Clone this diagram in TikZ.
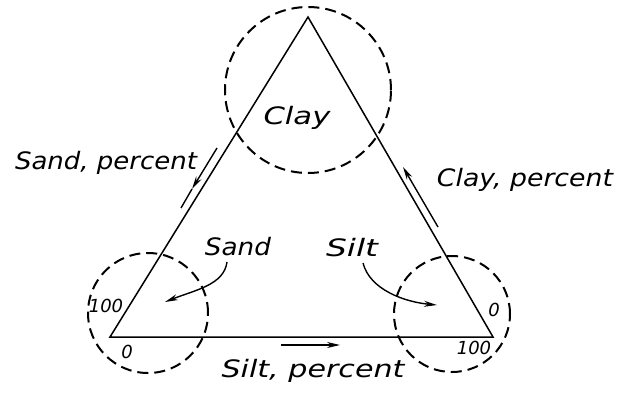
\documentclass[tikz,border=0pt]{standalone}
\usepackage{fontspec}
\usepackage{graphicx}
\setmainfont{DejaVu Sans}
\usetikzlibrary{arrows.meta}
\newcommand{\hw}[2]{\resizebox{#1}{\height}{#2}}
\tikzset{
  side/.style={line width=1.5pt, line join=miter},
  zone/.style={circle, draw, dash pattern=on 11pt off 6pt, line width=2pt, inner sep=0pt},
  lbl/.style={font=\fontsize{24}{24}\selectfont\itshape, inner sep=0pt},
  num/.style={font=\fontsize{18}{18}\selectfont\itshape, inner sep=0pt},
  arr/.style={line width=1.4pt, -{Stealth[length=13pt,width=6pt]}},
  plain/.style={line width=1.4pt}
}
\begin{document}
\begin{tikzpicture}[x=1pt,y=-1pt]
\useasboundingbox (0,0) rectangle (622,392);
% vertices
\coordinate (A) at (110,337);
\coordinate (B) at (493,337);
\coordinate (C) at (308,17);
\draw[side] (A) -- (C) -- (B) -- cycle;
% zone circles
\node[zone, minimum size=166pt] (ctop) at (308,90) {};
\node[zone, minimum size=120pt] (cleft) at (148,313) {};
\node[zone, minimum size=116pt] (cright) at (452,314) {};
% labels
\node[lbl] (clay) at (297,118) {\hw{67pt}{Clay}};
\node[lbl] (sandp) at (106,163) {\hw{182pt}{Sand, percent}};
\node[lbl] (clayp) at (525,180) {\hw{176pt}{Clay, percent}};
\node[lbl] (siltp) at (313,371) {\hw{183pt}{Silt, percent}};
\node[lbl] (sand) at (238,247) {\hw{66pt}{Sand}};
\node[lbl] (silt) at (352,248) {\hw{52pt}{Silt}};
\node[num] (l100) at (106,306) {100};
\node[num] (l0) at (127,352) {0};
\node[num] (r0) at (494,310) {0};
\node[num] (r100) at (474,348) {100};
% direction arrows along sides
\coordinate (la1) at (217,148);
\coordinate (la2) at (192,189);
\coordinate (la3) at (181,208);
\draw[arr] (la1) -- (la2);
\draw[plain] (la2) -- (la3);
\coordinate (ra1) at (438,227);
\coordinate (ra2) at (403,167);
\draw[arr] (ra1) -- (ra2);
\coordinate (ba1) at (281,345);
\coordinate (ba2) at (340,345);
\draw[arr] (ba1) -- (ba2);
% curved pointers
\coordinate (sa1) at (227,262);
\coordinate (sa2) at (165,302);
\draw[arr] (sa1) .. controls (224,285) and (195,290) .. (sa2);
\coordinate (si1) at (363,263);
\coordinate (si2) at (437,305);
\draw[arr] (si1) .. controls (370,290) and (405,302) .. (si2);
\end{tikzpicture}
\end{document}
